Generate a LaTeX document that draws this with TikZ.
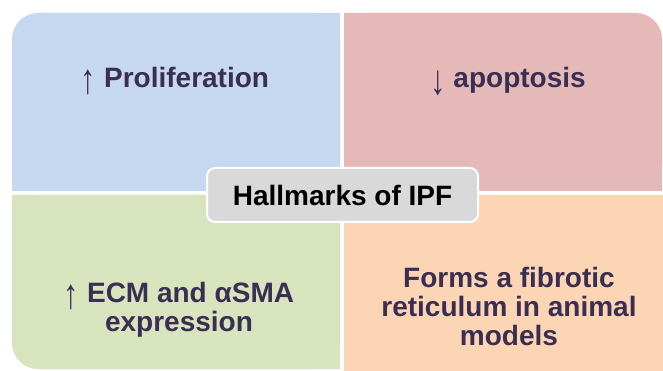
\documentclass[tikz,border=0pt]{standalone}
\usepackage{fontspec}
\setmainfont{Liberation Sans}
\usetikzlibrary{positioning}
\definecolor{quadblue}{HTML}{C6D8F0}
\definecolor{quadpink}{HTML}{E6B9B9}
\definecolor{quadgreen}{HTML}{D7E4BD}
\definecolor{quadorange}{HTML}{FCD5B5}
\definecolor{hubgray}{HTML}{D9D9D9}
\definecolor{labelink}{HTML}{3A2F52}
\tikzstyle{quadtext} = [text=labelink, font=\fontsize{28}{29}\selectfont\bfseries, align=center, inner sep=0pt]
\tikzstyle{hub} = [rectangle, rounded corners=8pt, minimum width=271pt, minimum height=54pt, text centered, draw=white, line width=2pt, fill=hubgray, font=\fontsize{28}{29}\selectfont\bfseries]
\newcommand{\uparr}{\raisebox{-6pt}{\scalebox{1.1}[1.5]{\mdseries\symbol{"2191}}}}
\newcommand{\downarr}{\raisebox{-7pt}{\scalebox{1.1}[1.5]{\mdseries\symbol{"2193}}}}

\begin{document}
\begin{tikzpicture}[x=1pt, y=-1pt]
        \useasboundingbox (0,0) rectangle (663,371);
        \fill [white] (0,0) rectangle (663,371);
        \clip (0,0) rectangle (663,371);
        % each panel: rounded box, then square off the inner corners
        \fill [quadblue, rounded corners=26pt] (12,13) rectangle (340,191);
        \fill [quadblue] (40,13) rectangle (340,191) (12,40) rectangle (340,191);
        \fill [quadpink, rounded corners=26pt] (344,13) rectangle (662,191);
        \fill [quadpink] (344,13) rectangle (630,191) (344,40) rectangle (662,191);
        \fill [quadgreen, rounded corners=26pt] (12,195) rectangle (340,369);
        \fill [quadgreen] (40,195) rectangle (340,369) (12,195) rectangle (340,340);
        \fill [quadorange] (344,195) rectangle (663,371);

        \node (prolif) [quadtext, anchor=base] at (175,88) {\uparr\ Proliferation};
        \node (apopt) [quadtext, anchor=base] at (508,88) {\downarr\ apoptosis};
        \node (ecm) [quadtext] at (179,310) {\uparr\ ECM and αSMA\\expression};
        \node (fibrotic) [quadtext] at (509,306) {Forms a fibrotic\\reticulum in animal\\models};

        \node (hallmarks) [hub] at (342.5,195) {Hallmarks of IPF};
    \end{tikzpicture}
\end{document}
